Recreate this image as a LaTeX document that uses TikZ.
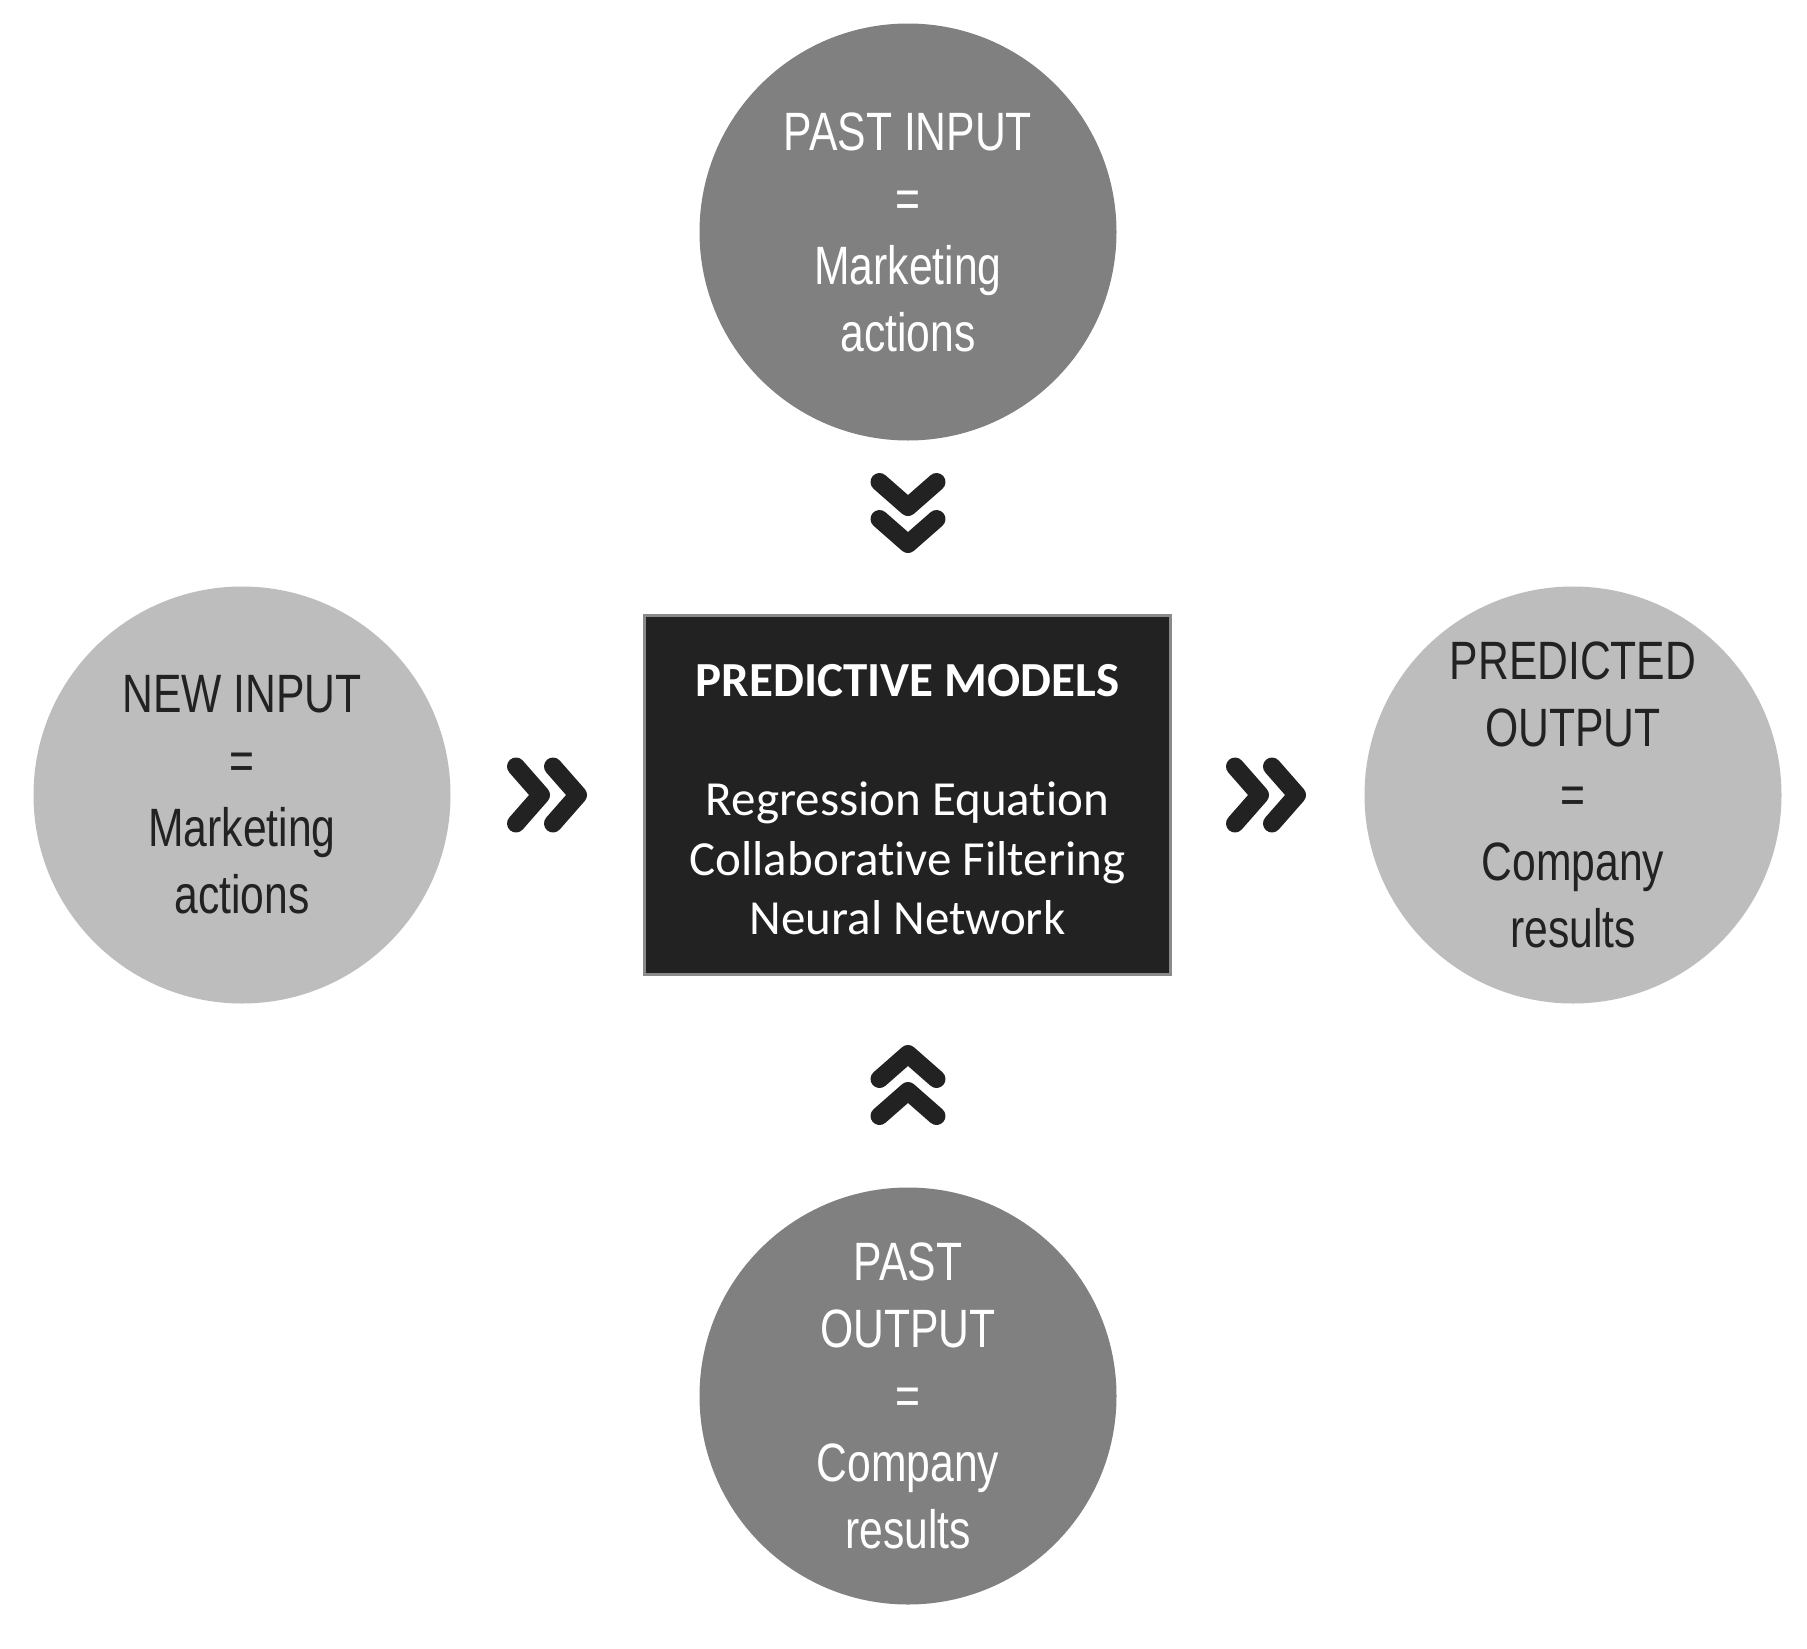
\documentclass[tikz,border=0pt]{standalone}
\usepackage{fontspec}
\newfontfamily\narrowfont{Liberation Sans}[FakeStretch=0.79]
\newfontfamily\calfont{Carlito}[Ligatures=NoCommon]
\definecolor{darkcirc}{HTML}{808080}
\definecolor{lightcirc}{HTML}{BDBDBD}
\definecolor{circtext}{HTML}{222222}
\definecolor{boxfill}{HTML}{222222}
\definecolor{boxedge}{HTML}{8A8A8A}
\definecolor{chevcol}{HTML}{222222}
\begin{document}
\begin{tikzpicture}[x=1pt,y=-1pt,
  bubble/.style={circle, minimum size=417pt, inner sep=-60pt, align=center,
    font=\narrowfont\fontsize{54}{67}\selectfont},
  darkbubble/.style={bubble, fill=darkcirc, text=white},
  lightbubble/.style={bubble, fill=lightcirc, text=circtext},
  modelbox/.style={draw=boxedge, line width=3pt, fill=boxfill, text=white,
    minimum width=526pt, minimum height=359pt, inner sep=0pt, align=center,
    font=\calfont\fontsize{49}{59.5}\selectfont},
  chevline/.style={draw=chevcol, line width=18pt, line cap=round, line join=round},
  dblchev/.pic={
    \path[chevline] (-31,-28.5) -- (-6,0) -- (-31,28.5);
    \path[chevline] (6,-28.5) -- (31,0) -- (6,28.5);
  }
]
\fill[white] (0,0) rectangle (1807,1649);
\useasboundingbox (0,0) rectangle (1807,1649);

\node[darkbubble] (pastin) at (908,232) {PAST INPUT\\=\\Marketing\\actions};
\node[lightbubble] (newin) at (242,795) {NEW INPUT\\=\\Marketing\\actions};
\node[lightbubble] (predout) at (1573,795) {PREDICTED\\OUTPUT\\=\\Company\\results};
\node[darkbubble] (pastout) at (908,1396) {PAST\\OUTPUT\\=\\Company\\results};

\node[modelbox] (models) at (907.5,795)
  {\strut\textbf{PREDICTIVE MODELS}\\[59.5pt]Regression Equation\\Collaborative Filtering\\Neural Network};

\coordinate (cdown) at (908,513);
\coordinate (cup) at (908,1085);
\coordinate (cleft) at (547,795);
\coordinate (cright) at (1266,795);

\pic[rotate=-90] at (cdown) {dblchev};
\pic[rotate=90] at (cup) {dblchev};
\pic at (cleft) {dblchev};
\pic at (cright) {dblchev};
\end{tikzpicture}
\end{document}
